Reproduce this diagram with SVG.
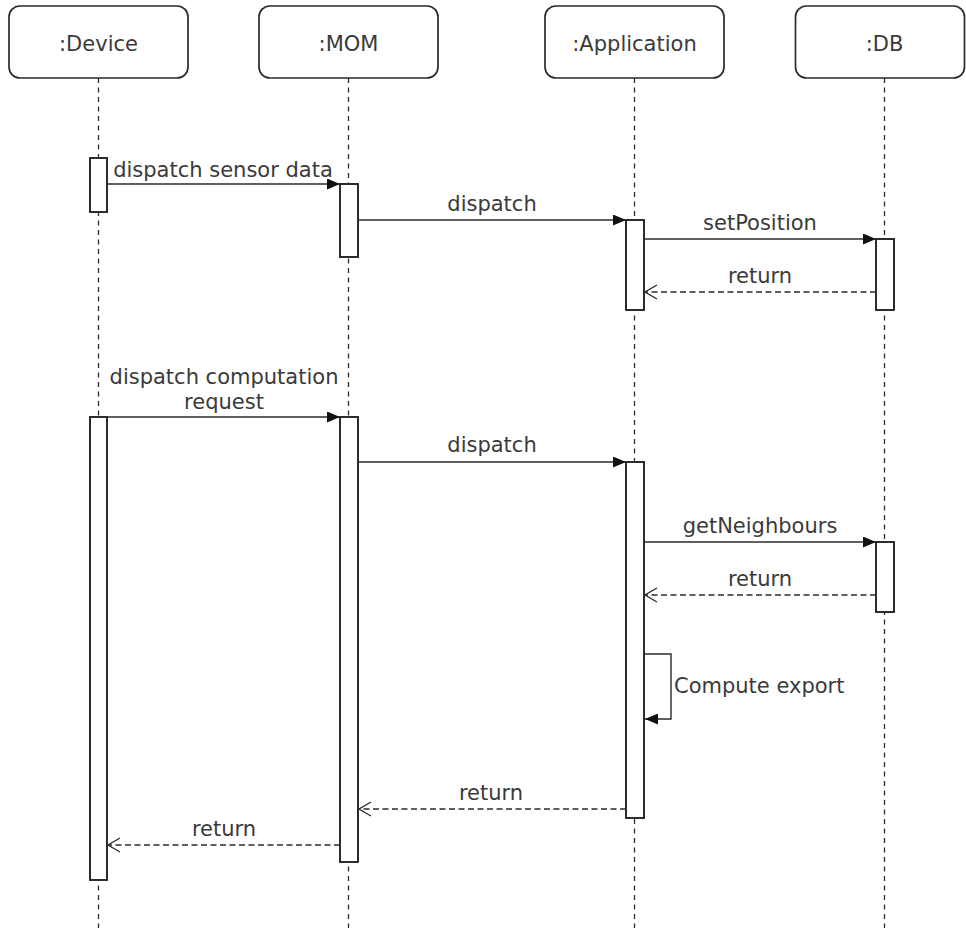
<svg xmlns="http://www.w3.org/2000/svg" width="966" height="928" viewBox="0 0 966 928">
<style>
.head{fill:#fff;stroke:#2b2b2b;stroke-width:1.7}
.life{fill:none;stroke:#2b2b2b;stroke-width:1.3;stroke-dasharray:5 4.5}
.act{fill:#fff;stroke:#222;stroke-width:1.9}
.msg{fill:none;stroke:#2b2b2b;stroke-width:1.4}
.ret{fill:none;stroke:#2b2b2b;stroke-width:1.3;stroke-dasharray:6 3.5}
text{font-family:"DejaVu Sans","Liberation Sans",sans-serif;font-size:21px;fill:#3a3a3a}
.c{text-anchor:middle}
</style>
<defs>
<marker id="filled" viewBox="0 0 13 11" refX="13" refY="5.5" markerWidth="13" markerHeight="11" markerUnits="userSpaceOnUse" orient="auto">
<path d="M0,0 L13,5.5 L0,11 Z" fill="#111"/>
</marker>
<marker id="open" viewBox="0 0 14 16" refX="13" refY="8" markerWidth="14" markerHeight="16" markerUnits="userSpaceOnUse" orient="auto">
<path d="M1,1 L13,8 L1,15" fill="none" stroke="#2b2b2b" stroke-width="1.3"/>
</marker>
</defs>
<g id="lifelines">
<line class="life" x1="98.5" y1="78" x2="98.5" y2="928"/>
<line class="life" x1="348.5" y1="78" x2="348.5" y2="928"/>
<line class="life" x1="634.5" y1="78" x2="634.5" y2="928"/>
<line class="life" x1="884.5" y1="78" x2="884.5" y2="928"/>
</g>
<g id="device">
<rect class="head" x="9" y="6" width="179" height="72" rx="11"/>
<text class="c" x="98.5" y="51">:Device</text>
<rect class="act" x="90" y="158" width="17" height="54"/>
<rect class="act" x="90" y="417" width="17" height="463"/>
</g>
<g id="mom">
<rect class="head" x="259" y="6" width="179" height="72" rx="11"/>
<text class="c" x="348.5" y="51">:MOM</text>
<rect class="act" x="340" y="184" width="18" height="73"/>
<rect class="act" x="340" y="417" width="18" height="445"/>
</g>
<g id="application">
<rect class="head" x="545" y="6" width="179" height="72" rx="11"/>
<text class="c" x="634.5" y="51">:Application</text>
<rect class="act" x="626" y="220" width="18" height="90"/>
<rect class="act" x="626" y="462" width="18" height="356"/>
</g>
<g id="db">
<rect class="head" x="795.5" y="6" width="169" height="72" rx="11"/>
<text class="c" x="884.5" y="51">:DB</text>
<rect class="act" x="876" y="239" width="18" height="71"/>
<rect class="act" x="876" y="542" width="18" height="70"/>
</g>
<g id="connectors">
<line class="msg" x1="107" y1="184" x2="340" y2="184" marker-end="url(#filled)"/>
<text class="c" x="223" y="177">dispatch sensor data</text>
<line class="msg" x1="358" y1="220" x2="626" y2="220" marker-end="url(#filled)"/>
<text class="c" x="492" y="211">dispatch</text>
<line class="msg" x1="644" y1="239" x2="876" y2="239" marker-end="url(#filled)"/>
<text class="c" x="760" y="230">setPosition</text>
<line class="ret" x1="876" y1="292" x2="645" y2="292" marker-end="url(#open)"/>
<text class="c" x="760" y="283">return</text>
<line class="msg" x1="107" y1="417" x2="340" y2="417" marker-end="url(#filled)"/>
<text class="c" x="224" y="384">dispatch computation</text>
<text class="c" x="224" y="409">request</text>
<line class="msg" x1="358" y1="462" x2="626" y2="462" marker-end="url(#filled)"/>
<text class="c" x="492" y="452">dispatch</text>
<line class="msg" x1="644" y1="542" x2="876" y2="542" marker-end="url(#filled)"/>
<text class="c" x="760" y="533">getNeighbours</text>
<line class="ret" x1="876" y1="595" x2="645" y2="595" marker-end="url(#open)"/>
<text class="c" x="760" y="586">return</text>
<path class="msg" d="M644,654 L671,654 L671,719 L645,719" marker-end="url(#filled)"/>
<text x="674" y="693">Compute export</text>
<line class="ret" x1="626" y1="809" x2="359" y2="809" marker-end="url(#open)"/>
<text class="c" x="491" y="800">return</text>
<line class="ret" x1="340" y1="845" x2="108" y2="845" marker-end="url(#open)"/>
<text class="c" x="224" y="836">return</text>
</g>
</svg>
